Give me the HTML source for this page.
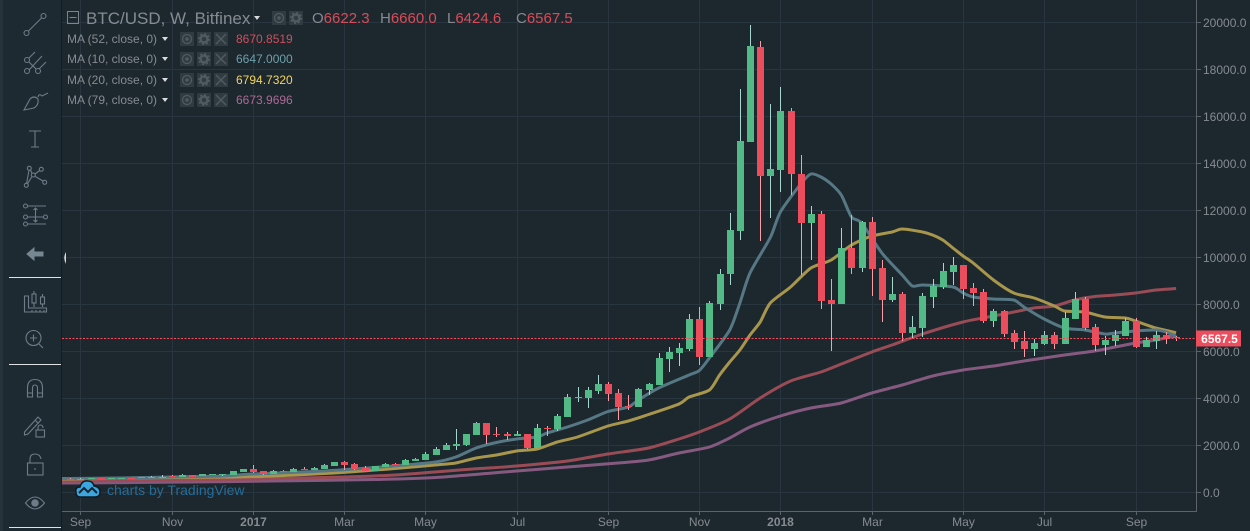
<!DOCTYPE html>
<html lang="en">
<head>
<meta charset="utf-8">
<title>BTC/USD, W, Bitfinex</title>
<style>
html,body{margin:0;padding:0;background:#1d272e;}
#app{position:relative;width:1250px;height:531px;overflow:hidden;background:#1d272e;font-family:"Liberation Sans",Arial,sans-serif;}
#chart{position:absolute;left:0;top:0;}
#sidebar{position:absolute;left:0;top:0;}
.lg{position:absolute;white-space:nowrap;line-height:16px;}
.t{color:#858c91;}
.btn{position:absolute;width:14px;height:14px;background:#2f3a41;}
.btn svg{display:block;}
.caret{position:absolute;width:0;height:0;border-left:3.5px solid transparent;border-right:3.5px solid transparent;border-top:4px solid #d8dcdf;}
</style>
</head>
<body>
<div id="app">
<svg id="chart" width="1250" height="531"></svg>

<svg id="sidebar" width="67" height="531">
  <rect x="0" y="0" width="61" height="531" fill="#1e2a32"/>
  <rect x="0" y="0" width="3" height="531" fill="#27333b"/>
  <rect x="61" y="0" width="1" height="531" fill="#151c22"/>
  <g fill="none" stroke="#6d7c87" stroke-width="1.1">
    <g><circle cx="26.5" cy="33" r="2.5"/><circle cx="43.5" cy="16" r="2.5"/><path d="M28.5 31L41.5 18"/></g>
    <g><circle cx="27" cy="60" r="2.5"/><circle cx="27" cy="71" r="2.5"/><circle cx="38" cy="71" r="2.5"/><path d="M29 58L35 52M29 70L42 56M39 69L46 62M29 62L36 69"/></g>
    <g><path d="M24 110L30 99Q34 95 38 99Q39 105 34 108L24 110Z"/><path d="M38 97Q39 93 42 96L48 93"/></g>
    <g><path d="M29 131H41M35 131V147M31 147H39"/></g>
    <g><circle cx="29.3" cy="168.3" r="2"/><circle cx="41.3" cy="169.3" r="2"/><circle cx="33.3" cy="175" r="2"/><circle cx="26.3" cy="185.3" r="2"/><circle cx="44.7" cy="182.3" r="2"/><path d="M26.6 183.3L29 170.3M30.500 170L32 173.500M35.300 176.500L43 181M32 176.500L27.500 183.700M35 174L39.700 170.500"/></g>
    <g><circle cx="25.5" cy="206" r="2"/><circle cx="25.5" cy="217" r="2"/><circle cx="45.5" cy="217" r="2"/><circle cx="25.5" cy="224" r="2"/><path d="M28 206H46M28 217H43M28 224H46M35.500 208V222M33.500 210L35.500 208L37.500 210M33.500 220L35.500 222L37.500 220"/></g>
    <g><path d="M24.500 296V312H46.500V308H28.500V296ZM32 312V310M36 312V310M40 312V310M44 312V310"/><rect x="32" y="294" width="4" height="9"/><rect x="40.500" y="297" width="4" height="7"/><path d="M34 291V294M34 303V307M42.500 294V297M42.500 304V307"/></g>
    <g><circle cx="33.500" cy="338" r="7.500"/><path d="M39 344L43 348M30 338H37M33.500 334.500V341.500"/></g>
    <g><path d="M27.500 397V388Q27.500 379.500 35 379.500Q42.500 379.500 42.500 388V397H37.500V388Q37.500 385 35 385Q32.500 385 32.500 388V397ZM27.500 393H32.500M37.500 393H42.500"/></g>
    <g><path d="M24.500 432L38 417L41 420L28 434L24.500 435ZM35 420L38 423"/><rect x="36" y="430" width="8.500" height="7"/><path d="M38 430V428Q38 425 40.500 425Q43 425 43 428"/></g>
    <g><rect x="27.500" y="463" width="15.500" height="12"/><path d="M30 463V459Q30 454 35 454Q40 454 41 459"/><path d="M35 468V470"/></g>
    <g><path d="M25.500 503Q35 491 44.500 503Q35 515 25.500 503Z"/><circle cx="35" cy="503" r="3.200" fill="#6d7c87"/></g>
  </g>
  <path d="M27 254L34 248V252H43V256H34V260Z" fill="#778792" stroke="#778792" stroke-width="1"/>
  <rect x="9" y="277" width="52" height="1" fill="#dfe3e5"/>
  <rect x="9" y="364" width="52" height="1" fill="#dfe3e5"/>
  <rect x="9" y="527" width="52" height="1" fill="#dfe3e5"/>
  <path d="M66 252Q62.500 258 66 264Z" fill="#d6dadc"/>
</svg>

<svg style="position:absolute;left:67px;top:11px" width="13" height="13"><rect x=".5" y=".5" width="11" height="12" fill="none" stroke="#7d858a"/><path d="M2.500 6.500H9.500" stroke="#7d858a"/></svg>
<div class="lg t" style="left:86px;top:10px;font-size:17px;line-height:18px;">BTC/USD, W, Bitfinex</div>
<div class="caret" style="left:254px;top:16px;"></div>
<div class="btn" style="left:272px;top:11px;"><svg width="14" height="14"><circle cx="7" cy="7" r="4.500" fill="none" stroke="#4f5a61" stroke-width="1.300"/><circle cx="7" cy="7" r="1.800" fill="#4f5a61"/></svg></div>
<div class="btn" style="left:289px;top:11px;"><svg width="14" height="14"><circle cx="7" cy="7" r="3.500" fill="none" stroke="#4f5a61" stroke-width="2.500"/><circle cx="7" cy="7" r="5.300" fill="none" stroke="#4f5a61" stroke-width="1.500" stroke-dasharray="2 2.160"/></svg></div>
<div class="lg" style="left:312px;top:10px;font-size:15px;line-height:18px;color:#d94c59;"><span class="t">O</span>6622.3</div>
<div class="lg" style="left:380px;top:10px;font-size:15px;line-height:18px;color:#d94c59;"><span class="t">H</span>6660.0</div>
<div class="lg" style="left:447px;top:10px;font-size:15px;line-height:18px;color:#d94c59;"><span class="t">L</span>6424.6</div>
<div class="lg" style="left:516px;top:10px;font-size:15px;line-height:18px;color:#d94c59;"><span class="t">C</span>6567.5</div>

<div id="ma-legend">
<div class="lg t" style="left:67px;top:31px;font-size:12px;">MA (52, close, 0)</div>
<div class="lg" style="left:236px;top:31px;font-size:12px;color:#cc505d;">8670.8519</div>
<div class="lg t" style="left:67px;top:51px;font-size:12px;">MA (10, close, 0)</div>
<div class="lg" style="left:236px;top:51px;font-size:12px;color:#6ea0ab;">6647.0000</div>
<div class="lg t" style="left:67px;top:72px;font-size:12px;">MA (20, close, 0)</div>
<div class="lg" style="left:236px;top:72px;font-size:12px;color:#f3d460;">6794.7320</div>
<div class="lg t" style="left:67px;top:92px;font-size:12px;">MA (79, close, 0)</div>
<div class="lg" style="left:236px;top:92px;font-size:12px;color:#ad6a95;">6673.9696</div>

<div class="caret" style="left:162px;top:37px;"></div>
<div class="caret" style="left:162px;top:57px;"></div>
<div class="caret" style="left:162px;top:78px;"></div>
<div class="caret" style="left:162px;top:98px;"></div>

<div class="btn" style="left:180px;top:32px;"><svg width="14" height="14"><circle cx="7" cy="7" r="4.500" fill="none" stroke="#4f5a61" stroke-width="1.300"/><circle cx="7" cy="7" r="1.800" fill="#4f5a61"/></svg></div>
<div class="btn" style="left:197px;top:32px;"><svg width="14" height="14"><circle cx="7" cy="7" r="3.500" fill="none" stroke="#4f5a61" stroke-width="2.500"/><circle cx="7" cy="7" r="5.300" fill="none" stroke="#4f5a61" stroke-width="1.500" stroke-dasharray="2 2.160"/></svg></div>
<div class="btn" style="left:214px;top:32px;"><svg width="14" height="14"><path d="M2 2L12 12M12 2L2 12" stroke="#4f5a61" stroke-width="1.500"/></svg></div>
<div class="btn" style="left:180px;top:52px;"><svg width="14" height="14"><circle cx="7" cy="7" r="4.500" fill="none" stroke="#4f5a61" stroke-width="1.300"/><circle cx="7" cy="7" r="1.800" fill="#4f5a61"/></svg></div>
<div class="btn" style="left:197px;top:52px;"><svg width="14" height="14"><circle cx="7" cy="7" r="3.500" fill="none" stroke="#4f5a61" stroke-width="2.500"/><circle cx="7" cy="7" r="5.300" fill="none" stroke="#4f5a61" stroke-width="1.500" stroke-dasharray="2 2.160"/></svg></div>
<div class="btn" style="left:214px;top:52px;"><svg width="14" height="14"><path d="M2 2L12 12M12 2L2 12" stroke="#4f5a61" stroke-width="1.500"/></svg></div>
<div class="btn" style="left:180px;top:73px;"><svg width="14" height="14"><circle cx="7" cy="7" r="4.500" fill="none" stroke="#4f5a61" stroke-width="1.300"/><circle cx="7" cy="7" r="1.800" fill="#4f5a61"/></svg></div>
<div class="btn" style="left:197px;top:73px;"><svg width="14" height="14"><circle cx="7" cy="7" r="3.500" fill="none" stroke="#4f5a61" stroke-width="2.500"/><circle cx="7" cy="7" r="5.300" fill="none" stroke="#4f5a61" stroke-width="1.500" stroke-dasharray="2 2.160"/></svg></div>
<div class="btn" style="left:214px;top:73px;"><svg width="14" height="14"><path d="M2 2L12 12M12 2L2 12" stroke="#4f5a61" stroke-width="1.500"/></svg></div>
<div class="btn" style="left:180px;top:93px;"><svg width="14" height="14"><circle cx="7" cy="7" r="4.500" fill="none" stroke="#4f5a61" stroke-width="1.300"/><circle cx="7" cy="7" r="1.800" fill="#4f5a61"/></svg></div>
<div class="btn" style="left:197px;top:93px;"><svg width="14" height="14"><circle cx="7" cy="7" r="3.500" fill="none" stroke="#4f5a61" stroke-width="2.500"/><circle cx="7" cy="7" r="5.300" fill="none" stroke="#4f5a61" stroke-width="1.500" stroke-dasharray="2 2.160"/></svg></div>
<div class="btn" style="left:214px;top:93px;"><svg width="14" height="14"><path d="M2 2L12 12M12 2L2 12" stroke="#4f5a61" stroke-width="1.500"/></svg></div>
</div>

<svg style="position:absolute;left:75px;top:479px" width="26" height="19">
  <path d="M1 13Q0 8 5 8Q7 1 13 2Q18 2 19 7Q25 8 25 13Q25 18 20 18H5Q1 18 1 13Z" fill="#3ba6e0" stroke="#0f1c26" stroke-width="1.500"/>
  <path d="M4 14L9 9L13 13L17 9L22 14" fill="none" stroke="#16252f" stroke-width="2"/>
</svg>
<div class="lg" style="left:107px;top:482px;font-size:14px;color:#246d98;">charts by TradingView</div>
</div>

<script>
// Weekly candles, one entry per week
const opens=[575,570,580,605,590,600,615,610,640,650,680,660,720,690,730,720,736,864,991,906,779,906,864,991,949,991,1119,1289,1204,1034,906,1076,1217,1162,1332,1374,1587,1800,1970,2012,2438,2948,2480,2480,2396,2480,1885,2750,2694,3204,4013,4013,4310,4617,4226,3672,3630,4353,4566,5672,5928,6098,7374,5757,8013,9290,11119,14906,18949,13460,13715,16226,13545,11460,11843,8183,8013,10396,9545,11502,9545,8183,8438,6779,6991,8310,8736,9374,9672,8693,8523,7289,7715,6779,6438,6098,6311,6694,6311,7374,8225,7034,6268,6438,6650,7289,6183,6438,6694,6622.3];
const closes=[565,580,590,590,600,615,610,640,655,660,640,740,650,780,770,760,906,991,864,779,906,864,991,949,1034,1162,1289,1162,991,906,1119,1204,1162,1374,1417,1630,1842,2012,2055,2480,2948,2438,2438,2396,2480,1885,2736,2720,3247,4055,4055,4353,4617,4183,3630,3630,4396,4617,5715,5970,6140,7374,5757,8055,9290,11162,14949,18991,13460,13757,16226,13545,11460,11843,8140,8013,10396,9545,11502,9502,8183,8438,6779,7034,8353,8779,9417,9672,8651,8480,7289,7715,6736,6396,6098,6353,6694,6311,7417,8225,6991,6268,6481,6694,7289,6183,6481,6694,6523,6567.5];
const highs=[590,590,600,615,610,625,625,650,700,720,730,790,730,790,780,770,906,991,1162,906,949,949,1034,1076,1076,1204,1300,1332,1247,1119,1119,1247,1260,1400,1460,1715,1927,2098,2693,2480,2991,2948,2778,2565,2608,2480,2906,2821,3332,4183,4480,4480,4991,4694,4396,4140,4438,4651,5928,6183,6353,7587,7885,8140,9502,11885,17162,19885,19204,16523,17247,16353,14353,12183,11970,9077,11247,11800,11545,11715,9885,9162,8523,7502,8480,9077,9757,10013,9680,8906,8650,7800,7757,6906,6864,6523,6864,6821,7672,8523,8310,7162,6650,6906,7417,7417,6608,6864,6821,6660];
const lows=[555,565,575,585,585,595,600,605,635,645,630,650,640,680,720,710,736,864,821,736,779,864,864,949,949,991,1119,949,949,906,906,1076,1162,1162,1332,1374,1587,1800,1800,1970,2438,2055,2353,2225,2396,1842,1885,2396,2609,3204,3843,3587,4183,3885,3076,3502,3630,4140,4566,5119,5374,6013,5417,5757,7757,8821,10736,14906,10694,11685,12792,12651,9247,9885,7800,6013,8013,9290,9374,8353,7247,8098,6438,6566,6609,7843,8650,8821,8225,7928,7204,7034,6609,6098,5757,5800,6268,6098,6311,7374,6906,6013,5843,6226,6650,6140,6183,6098,6311,6424.6];

// Moving averages, read at selected weeks
const ma10Weeks=[-1,0,5,10,15,18,24,28,33,36,38,40,42,44,46,47,49,51,53,55,56,58,61,62,63,65,66,67,69,70,72,73,74,75,76,77,78,80,82,83,84,87,88,89,91,93,94,96,98,100,102,103,105,107,108,109];
const ma10Values=[587,587,608,651,694,779,885,991,1162,1289,1502,1885,2119,2268,2353,2523,2779,3077,3438,3630,3928,4438,4991,5183,5715,6906,8055,9332,10843,11928,13119,13545,13417,13119,12651,11715,11460,10183,9247,8779,8821,8736,8480,8310,8225,8183,7885,7374,6991,6906,6736,6779,6864,6906,6821,6647];
const ma20Weeks=[-1,0,6,10,16,20,26,32,36,38,40,42,44,46,48,50,53,55,57,60,61,63,64,65,66,67,68,69,71,73,75,77,79,81,82,84,85,86,87,88,89,91,93,95,97,98,100,102,104,105,107,109];
const ma20Values=[566,566,608,630,651,694,821,1013,1162,1247,1460,1587,1757,1843,2140,2353,2821,3034,3311,3757,4055,4353,4991,5545,6055,6694,7247,8055,8736,9545,9885,10523,10907,11077,11204,11077,10949,10736,10396,10055,9757,9034,8480,8268,7928,7715,7672,7459,7417,7289,6991,6795];
const ma52Weeks=[-1,0,10,18,27,32,39,44,49,53,57,60,62,65,68,71,74,76,79,81,84,88,91,93,95,97,99,101,103,105,107,109];
const ma52Values=[481,481,523,566,651,736,970,1119,1332,1630,1885,2268,2566,3119,4013,4736,5119,5460,5970,6268,6736,7247,7502,7672,7843,7928,8183,8332,8395,8480,8608,8671];
const ma79Weeks=[-1,0,12,20,30,36,44,49,54,57,60,63,65,67,70,73,76,79,82,85,88,91,94,96,98,101,103,105,107,109];
const ma79Values=[396,396,438,481,545,630,906,1077,1247,1374,1672,1928,2311,2779,3247,3587,3800,4226,4566,4949,5204,5375,5587,5715,5843,6013,6183,6353,6481,6674];

// Axis ticks
const priceTicks=[0,2000,4000,6000,8000,10000,12000,14000,16000,18000,20000];
const timeTickWeeks=[1,10,18,27,35,44,53,62,70,79,88,96,105];
const timeTickLabels=["Sep","Nov","2017","Mar","May","Jul","Sep","Nov","2018","Mar","May","Jul","Sep"];
const lastPrice=6567.5;

const svg=document.getElementById('chart');
const NS='http://www.w3.org/2000/svg';
function xScale(week){return 70.3+10.145*week;}
function yScale(price){return 492.3-0.0235*price;}
function make(tag,attrs,parent){
  const el=document.createElementNS(NS,tag);
  for(const k in attrs){el.setAttribute(k,attrs[k]);}
  (parent||svg).appendChild(el);
  return el;
}

const gridGroup=make('g',{});


priceTicks.forEach(function(p){
  const y=Math.round(yScale(p))+0.5;
  const line=make('line',{x1:62,x2:1197,y1:y,y2:y,stroke:'#2a363f','stroke-width':1},gridGroup);
  
  
});
timeTickWeeks.forEach(function(w){
  const x=Math.round(xScale(w))+0.5;
  const line=make('line',{x1:x,x2:x,y1:0,y2:511,stroke:'#2a363f','stroke-width':1},gridGroup);
  
  
});

function drawMA(weeks,values,color,name){
  const pts=weeks.map(function(w,i){return [xScale(w),yScale(values[i])];});
  let d='M'+pts[0][0].toFixed(1)+' '+pts[0][1].toFixed(1);
  for(let i=0;i<pts.length-1;i++){
    const p0=pts[Math.max(0,i-1)],p1=pts[i],p2=pts[i+1],p3=pts[Math.min(pts.length-1,i+2)];
    const c1x=p1[0]+(p2[0]-p0[0])/8,c1y=p1[1]+(p2[1]-p0[1])/8;
    const c2x=p2[0]-(p3[0]-p1[0])/8,c2y=p2[1]-(p3[1]-p1[1])/8;
    d+='C'+c1x.toFixed(1)+' '+c1y.toFixed(1)+' '+c2x.toFixed(1)+' '+c2y.toFixed(1)+' '+p2[0].toFixed(1)+' '+p2[1].toFixed(1);
  }
  const path=make('path',{d:d,fill:'none',stroke:color,'stroke-width':3,'stroke-linejoin':'round','stroke-linecap':'butt'});
  
  
}
drawMA(ma79Weeks,ma79Values,'#865a80','ma79-line');
drawMA(ma52Weeks,ma52Values,'#9a4c56','ma52-line');
drawMA(ma20Weeks,ma20Values,'#a8964c','ma20-line');
drawMA(ma10Weeks,ma10Values,'#567884','ma10-line');

const candleGroup=make('g',{'shape-rendering':'crispEdges'});


opens.forEach(function(o,i){
  const c=closes[i];
  const up=c>=o;
  const cx=Math.round(xScale(i));
  const wick=make('rect',{x:cx,width:1,y:Math.round(yScale(highs[i])),height:Math.max(1,Math.round(yScale(lows[i]))-Math.round(yScale(highs[i]))),fill:up?'#a6d6d0':'#fb9ca6'},candleGroup);
  
  
  const top=Math.round(yScale(Math.max(o,c)));
  const bot=Math.round(yScale(Math.min(o,c)));
  const body=make('rect',{x:cx-3,width:7,y:top,height:Math.max(1,bot-top),fill:up?'#53b987':'#eb4d5c'},candleGroup);
  
  
});

const lineY=Math.round(yScale(lastPrice))+0.5;
const priceLine=make('line',{x1:62,x2:1197,y1:lineY,y2:lineY,stroke:'#ff4a5c','stroke-width':1,'stroke-dasharray':'2 1.500','shape-rendering':'crispEdges'});



const leftCover=make('rect',{x:0,y:0,width:62,height:531,fill:'#1d272e'});



const priceBg=make('rect',{x:1197,y:0,width:53,height:531,fill:'#1d272e'});


const timeBg=make('rect',{x:62,y:512,width:1188,height:19,fill:'#1d272e'});



const yAxisLine=make('line',{x1:1196.5,x2:1196.5,y1:0,y2:511,stroke:'#5c6368','stroke-width':1});


const xAxisLine=make('line',{x1:62,x2:1197,y1:511.5,y2:511.5,stroke:'#5c6368','stroke-width':1});



priceTicks.forEach(function(p){
  const y=Math.round(yScale(p))+0.5;
  const tick=make('line',{x1:1197,x2:1201,y1:y,y2:y,stroke:'#5c6368','stroke-width':1});
  
  
  const t=make('text',{x:1203,y:y+4.3,fill:'#858c91','font-size':12,'font-family':'"Liberation Sans",Arial,sans-serif'});
  t.textContent=p.toFixed(1);
  
  
});
timeTickWeeks.forEach(function(w,i){
  const x=Math.round(xScale(w))+0.5;
  const tick=make('line',{x1:x,x2:x,y1:512,y2:515,stroke:'#5c6368','stroke-width':1});
  
  
  const bold=/^\d+$/.test(timeTickLabels[i]);
  const t=make('text',{x:x,y:526,fill:'#858c91','font-size':12,'text-anchor':'middle','font-weight':bold?'bold':'normal','font-family':'"Liberation Sans",Arial,sans-serif'});
  t.textContent=timeTickLabels[i];
  
  
});

const tagY=Math.round(yScale(lastPrice));
const tag=make('rect',{x:1196,y:tagY-7.500,width:45,height:16,fill:'#ee4d5d'});


const tagText=make('text',{x:1219.5,y:tagY+4.800,fill:'#ffffff','font-size':12,'font-weight':'bold','text-anchor':'middle','font-family':'"Liberation Sans",Arial,sans-serif'});
tagText.textContent=lastPrice.toFixed(1);


</script>
</body>
</html>
